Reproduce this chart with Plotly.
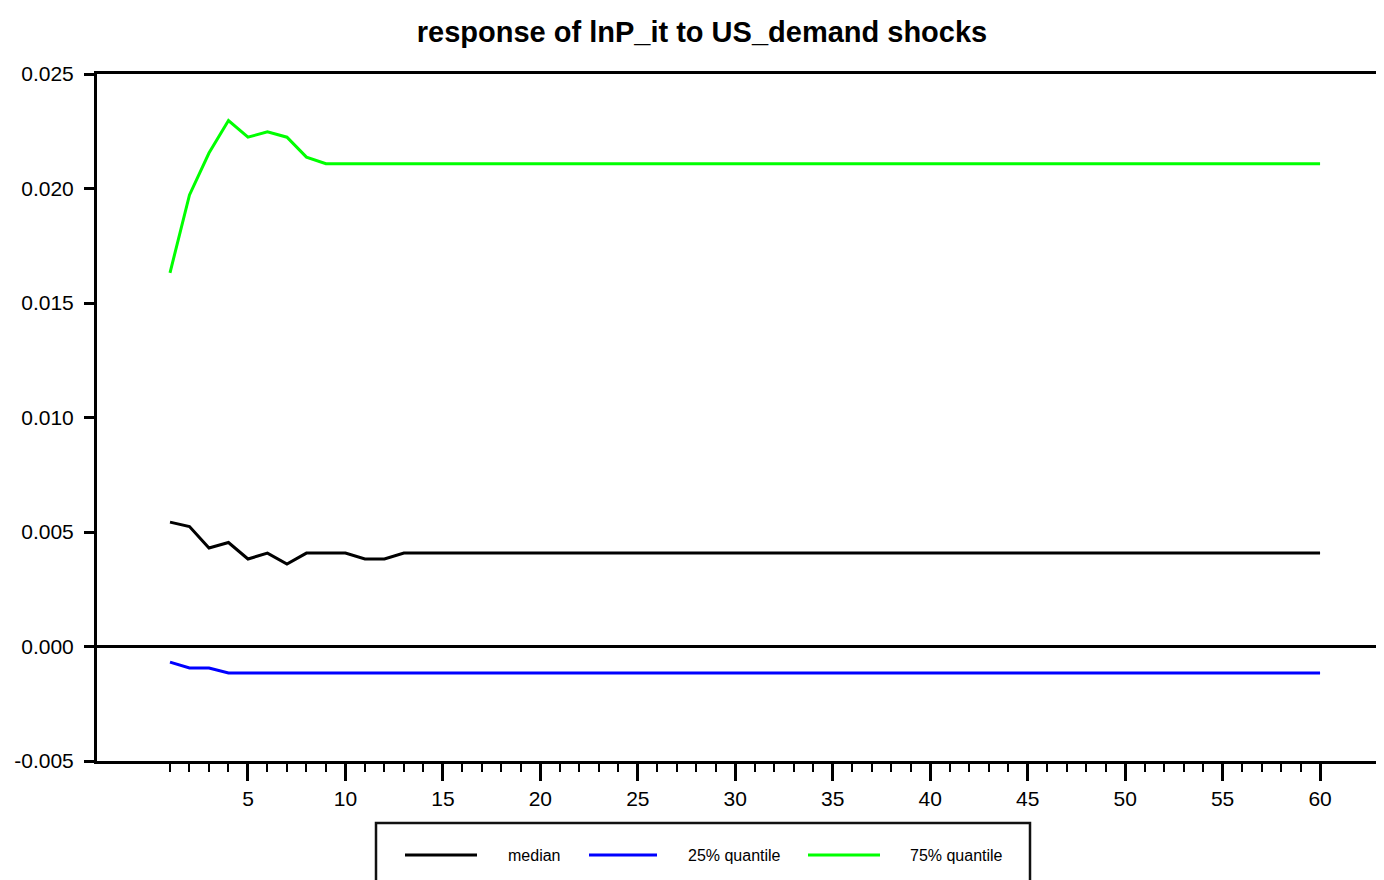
import plotly.graph_objects as go

# ---- data ----
horizon = list(range(1, 61))

median = [
    0.00543, 0.00524, 0.00430, 0.00454, 0.00382, 0.00408, 0.00360, 0.00408, 0.00408, 0.00408,
    0.00382, 0.00382, 0.00408, 0.00408, 0.00408, 0.00408, 0.00408, 0.00408, 0.00408, 0.00408,
    0.00408, 0.00408, 0.00408, 0.00408, 0.00408, 0.00408, 0.00408, 0.00408, 0.00408, 0.00408,
    0.00408, 0.00408, 0.00408, 0.00408, 0.00408, 0.00408, 0.00408, 0.00408, 0.00408, 0.00408,
    0.00408, 0.00408, 0.00408, 0.00408, 0.00408, 0.00408, 0.00408, 0.00408, 0.00408, 0.00408,
    0.00408, 0.00408, 0.00408, 0.00408, 0.00408, 0.00408, 0.00408, 0.00408, 0.00408, 0.00408,
]

q25 = [
    -0.00068, -0.00094, -0.00094, -0.00116, -0.00116, -0.00116, -0.00116, -0.00116, -0.00116, -0.00116,
    -0.00116, -0.00116, -0.00116, -0.00116, -0.00116, -0.00116, -0.00116, -0.00116, -0.00116, -0.00116,
    -0.00116, -0.00116, -0.00116, -0.00116, -0.00116, -0.00116, -0.00116, -0.00116, -0.00116, -0.00116,
    -0.00116, -0.00116, -0.00116, -0.00116, -0.00116, -0.00116, -0.00116, -0.00116, -0.00116, -0.00116,
    -0.00116, -0.00116, -0.00116, -0.00116, -0.00116, -0.00116, -0.00116, -0.00116, -0.00116, -0.00116,
    -0.00116, -0.00116, -0.00116, -0.00116, -0.00116, -0.00116, -0.00116, -0.00116, -0.00116, -0.00116,
]

q75 = [
    0.01632, 0.01972, 0.02155, 0.02297, 0.02224, 0.02248, 0.02224, 0.02137, 0.02108, 0.02108,
    0.02108, 0.02108, 0.02108, 0.02108, 0.02108, 0.02108, 0.02108, 0.02108, 0.02108, 0.02108,
    0.02108, 0.02108, 0.02108, 0.02108, 0.02108, 0.02108, 0.02108, 0.02108, 0.02108, 0.02108,
    0.02108, 0.02108, 0.02108, 0.02108, 0.02108, 0.02108, 0.02108, 0.02108, 0.02108, 0.02108,
    0.02108, 0.02108, 0.02108, 0.02108, 0.02108, 0.02108, 0.02108, 0.02108, 0.02108, 0.02108,
    0.02108, 0.02108, 0.02108, 0.02108, 0.02108, 0.02108, 0.02108, 0.02108, 0.02108, 0.02108,
]

series_names = ["median", "25% quantile", "75% quantile"]
series_colors = ["#000000", "#0000ff", "#00ff00"]

x_major_ticks = [5, 10, 15, 20, 25, 30, 35, 40, 45, 50, 55, 60]
x_minor_ticks = [h for h in horizon if h % 5 != 0]
y_ticks = [-0.005, 0.000, 0.005, 0.010, 0.015, 0.020, 0.025]
y_tick_labels = ["-0.005", "0.000", "0.005", "0.010", "0.015", "0.020", "0.025"]

title_text = "response of lnP_it to US_demand shocks"

# ---- layout geometry (window pixels; page body has an 8px margin) ----
OFF = 8
W, H = 1384 - OFF, 880 - OFF
L, R, T, B = 97 - OFF, 0, 74 - OFF, 119
PW, PH = W - L - R, H - T - B
FONT = "Liberation Sans, Arial, sans-serif"


def px_x(px):
    return (px - OFF - L) / PW


def px_y(py):
    return (H - B - (py - OFF)) / PH


fig = go.Figure()
for vals, name, color in zip([median, q25, q75], series_names, series_colors):
    fig.add_trace(go.Scatter(
        x=horizon, y=vals, mode="lines", name=name,
        line=dict(color=color, width=3), showlegend=False,
    ))

# ---- custom legend (box with long line samples) ----
shapes = [
    dict(type="rect", xref="paper", yref="paper",
         x0=px_x(376), x1=px_x(1030), y0=px_y(890), y1=px_y(823),
         line=dict(color="#111111", width=2.5), fillcolor="white", layer="above"),
]
annotations = []
legend_lines = [(405, 477, 506), (589, 657, 686), (808, 880, 908)]
for (lx0, lx1, tx), name, color in zip(legend_lines, series_names, series_colors):
    shapes.append(dict(type="line", xref="paper", yref="paper",
                       x0=px_x(lx0), x1=px_x(lx1), y0=px_y(855), y1=px_y(855),
                       line=dict(color=color, width=3), layer="above"))
    annotations.append(dict(xref="paper", yref="paper", x=px_x(tx), y=px_y(855),
                            xanchor="left", yanchor="middle", showarrow=False,
                            text=name, font=dict(family=FONT, size=16, color="#000")))

fig.update_layout(
    width=W, height=H,
    margin=dict(l=L, r=R, t=T, b=B, autoexpand=False),
    paper_bgcolor="white", plot_bgcolor="white",
    font=dict(family=FONT, color="#000"),
    title=dict(text=title_text, x=(702 - OFF) / W, xanchor="center",
               y=1 - (32 - OFF) / H, yanchor="middle", yref="container",
               font=dict(family=FONT, size=29, color="#000", weight="bold")),
    shapes=shapes,
    annotations=annotations,
    showlegend=False,
    xaxis=dict(
        range=[-2.745, 63.28],
        tickmode="array", tickvals=x_major_ticks,
        ticks="outside", ticklen=17, tickwidth=3, tickcolor="#000",
        showline=True, linecolor="#000", linewidth=3, mirror=True,
        showgrid=False, zeroline=False,
        tickfont=dict(family=FONT, size=21, color="#000"),
        minor=dict(tickmode="array", tickvals=x_minor_ticks, ticks="outside",
                   ticklen=8, tickwidth=2, tickcolor="#000", showgrid=False),
    ),
    yaxis=dict(
        range=[-0.005, 0.025],
        tickmode="array", tickvals=y_ticks, ticktext=y_tick_labels,
        ticks="outside", ticklen=10, tickwidth=3, tickcolor="#000",
        showline=True, linecolor="#000", linewidth=3, mirror=False,
        showgrid=False,
        zeroline=True, zerolinecolor="#000", zerolinewidth=3,
        tickfont=dict(family=FONT, size=21, color="#000"),
        ticklabelstandoff=6,
    ),
)

fig.write_html("out.html")
